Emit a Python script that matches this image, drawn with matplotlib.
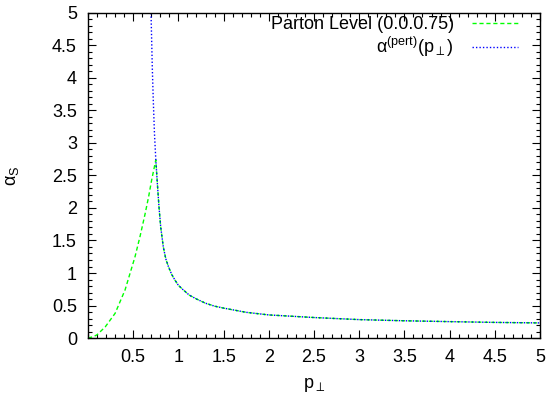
import numpy as np
import matplotlib
matplotlib.use("Agg")
import matplotlib.pyplot as plt
from matplotlib.ticker import MultipleLocator

plt.rcParams['font.family'] = ['Liberation Sans', 'DejaVu Sans']
plt.rcParams['mathtext.fontset'] = 'custom'
plt.rcParams['mathtext.rm'] = 'Liberation Sans'
plt.rcParams['mathtext.it'] = 'Liberation Sans'
plt.rcParams['mathtext.sf'] = 'Liberation Sans'

# ==================
# values
# ==================
# perturbative running coupling (blue, dotted)
pt_pert = [0.697, 0.711, 0.722, 0.735, 0.75, 0.767, 0.785, 0.804, 0.833, 0.86,
           0.889, 0.925, 0.962, 1.00, 1.054, 1.12, 1.20, 1.30, 1.40, 1.50,
           1.75, 2.00, 2.25, 2.50, 3.00, 3.50, 4.00, 4.50, 5.00]
alpha_pert = [5.0, 4.17, 3.66, 3.15, 2.74, 2.38, 2.02, 1.71, 1.40, 1.22,
              1.10, 0.98, 0.89, 0.81, 0.74, 0.66, 0.60, 0.535, 0.49, 0.46,
              0.395, 0.355, 0.335, 0.315, 0.283, 0.265, 0.252, 0.240, 0.232]

# parton level below the freeze point (green, dashed); above it follows the blue one
pt_low = [0.0, 0.06, 0.10, 0.19, 0.30, 0.41, 0.52, 0.575, 0.63, 0.67, 0.704]
alpha_low = [0.0, 0.02, 0.05, 0.17, 0.38, 0.74, 1.25, 1.56, 1.90, 2.17, 2.43]
pt_freeze = 0.75

xticks = [0.5, 1, 1.5, 2, 2.5, 3, 3.5, 4, 4.5, 5]
yticks = [0, 0.5, 1, 1.5, 2, 2.5, 3, 3.5, 4, 4.5, 5]

pt_pert = np.array(pt_pert)
alpha_pert = np.array(alpha_pert)
above = pt_pert >= pt_freeze
pt_parton = np.concatenate([pt_low, pt_pert[above]])
alpha_parton = np.concatenate([alpha_low, alpha_pert[above]])

# ==================
# plot
# ==================
fig = plt.figure(figsize=(5.48, 3.95), dpi=100)
ax = fig.add_axes([0.1606, 0.1443, 0.8248, 0.8228])

ax.plot(pt_parton, alpha_parton, color='#00ff00', lw=1.0, dashes=(3, 2),
        label='Parton Level (0.0.0.75)')
ax.plot(pt_pert, alpha_pert, color='#0000ff', lw=1.0, dashes=(1, 1.5),
        label=r'α$^{\rm (pert)}$(p$_\perp$)')

ax.set_xlim(0, 5)
ax.set_ylim(0, 5)
ax.set_xticks(xticks)
ax.set_yticks(yticks)
ax.set_xticklabels([f'{t:g}' for t in xticks])
ax.set_yticklabels([f'{t:g}' for t in yticks])
ax.xaxis.set_minor_locator(MultipleLocator(0.1))
ax.yaxis.set_minor_locator(MultipleLocator(0.1))
ax.tick_params(which='both', direction='in', top=True, right=True,
               labelsize=13, color='black')
ax.tick_params(which='major', length=6, width=0.8, pad=8)
ax.tick_params(which='minor', length=3, width=0.8)
for s in ax.spines.values():
    s.set_linewidth(1.0)

ax.set_xlabel(r'p$_\perp$', fontsize=13, labelpad=7)
ax.set_ylabel(r'α$_{\rm S}$', fontsize=13, labelpad=22)

ax.legend(loc='upper right', bbox_to_anchor=(0.967, 1.013), frameon=False,
          markerfirst=False, fontsize=13, handlelength=2.55,
          handletextpad=1.0, labelspacing=0.1, borderaxespad=0.0)

fig.savefig('out.png', dpi=100)
